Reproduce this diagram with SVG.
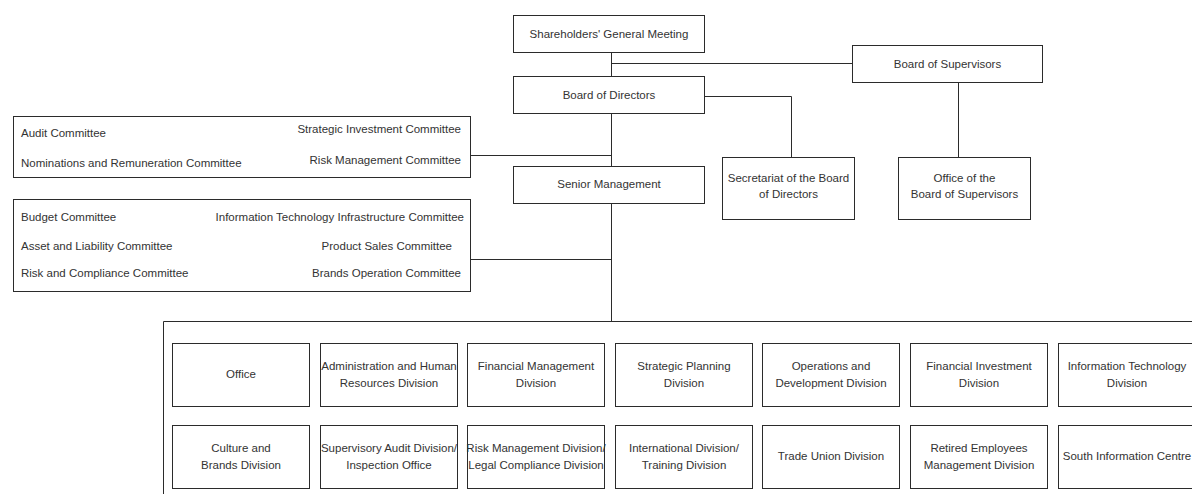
<svg xmlns="http://www.w3.org/2000/svg" width="1192" height="494" viewBox="0 0 1192 494">
  <style>
    .box { fill: #ffffff; stroke: #2b2b2b; stroke-width: 1; }
    .wire { fill: none; stroke: #2b2b2b; stroke-width: 1; }
    text { font-family: "Liberation Sans", Arial, sans-serif; font-size: 11.5px; fill: #333333; dominant-baseline: central; }
    .c { text-anchor: middle; }
    .e { text-anchor: end; }
    .s { text-anchor: start; }
  </style>
  <rect width="1192" height="494" fill="#ffffff"/>

  <!-- connectors -->
  <g id="connectors">
    <path class="wire" d="M611.5,52.5 V76.5"/>
    <path class="wire" d="M611.5,63.5 H852.5"/>
    <path class="wire" d="M704.5,96.5 H791.5 V157.5"/>
    <path class="wire" d="M958.5,82.5 V157.5"/>
    <path class="wire" d="M611.5,113.5 V166.5"/>
    <path class="wire" d="M470.5,155.5 H611.5"/>
    <path class="wire" d="M611.5,203.5 V321.5"/>
    <path class="wire" d="M470.5,259.5 H611.5"/>
    <!-- frame around the divisions -->
    <path class="wire" d="M163.5,494 V321.5 H1200"/>
  </g>

  <g id="shareholders">
    <rect class="box" x="513.5" y="15.5" width="191" height="37"/>
    <text class="c" x="609" y="34">Shareholders' General Meeting</text>
  </g>
  <g id="board-of-directors">
    <rect class="box" x="513.5" y="76.5" width="191" height="37"/>
    <text class="c" x="609" y="95">Board of Directors</text>
  </g>
  <g id="board-of-supervisors">
    <rect class="box" x="852.5" y="45.5" width="190" height="37"/>
    <text class="c" x="947.5" y="64">Board of Supervisors</text>
  </g>
  <g id="senior-management">
    <rect class="box" x="513.5" y="166.5" width="191" height="37"/>
    <text class="c" x="609" y="184">Senior Management</text>
  </g>
  <g id="secretariat">
    <rect class="box" x="722.5" y="157.5" width="132" height="62"/>
    <text class="c" x="788.5" y="178">Secretariat of the Board</text>
    <text class="c" x="788.5" y="194">of Directors</text>
  </g>
  <g id="office-of-supervisors">
    <rect class="box" x="898.5" y="157.5" width="132" height="62"/>
    <text class="c" x="964.5" y="178">Office of the</text>
    <text class="c" x="964.5" y="194">Board of Supervisors</text>
  </g>

  <g id="board-committees">
    <rect class="box" x="13.5" y="116.5" width="457" height="61"/>
    <text class="s" x="21" y="133">Audit Committee</text>
    <text class="s" x="21" y="163">Nominations and Remuneration Committee</text>
    <text class="e" x="461" y="129">Strategic Investment Committee</text>
    <text class="e" x="461" y="160">Risk Management Committee</text>
  </g>
  <g id="management-committees">
    <rect class="box" x="13.5" y="199.5" width="457" height="92"/>
    <text class="s" x="21" y="217">Budget Committee</text>
    <text class="s" x="21" y="246">Asset and Liability Committee</text>
    <text class="s" x="21" y="273">Risk and Compliance Committee</text>
    <text class="e" x="464" y="217">Information Technology Infrastructure Committee</text>
    <text class="e" x="452" y="246">Product Sales Committee</text>
    <text class="e" x="461" y="273">Brands Operation Committee</text>
  </g>

  <!-- divisions, first row -->
  <g id="office">
    <rect class="box" x="172.5" y="343.5" width="137" height="63"/>
    <text class="c" x="241" y="374">Office</text>
  </g>
  <g id="admin-hr">
    <rect class="box" x="320.5" y="343.5" width="137" height="63"/>
    <text class="c" x="389" y="366">Administration and Human</text>
    <text class="c" x="389" y="383">Resources Division</text>
  </g>
  <g id="financial-management">
    <rect class="box" x="467.5" y="343.5" width="137" height="63"/>
    <text class="c" x="536" y="366">Financial Management</text>
    <text class="c" x="536" y="383">Division</text>
  </g>
  <g id="strategic-planning">
    <rect class="box" x="615.5" y="343.5" width="137" height="63"/>
    <text class="c" x="684" y="366">Strategic Planning</text>
    <text class="c" x="684" y="383">Division</text>
  </g>
  <g id="operations-development">
    <rect class="box" x="762.5" y="343.5" width="137" height="63"/>
    <text class="c" x="831" y="366">Operations and</text>
    <text class="c" x="831" y="383">Development Division</text>
  </g>
  <g id="financial-investment">
    <rect class="box" x="910.5" y="343.5" width="137" height="63"/>
    <text class="c" x="979" y="366">Financial Investment</text>
    <text class="c" x="979" y="383">Division</text>
  </g>
  <g id="information-technology">
    <rect class="box" x="1058.5" y="343.5" width="137" height="63"/>
    <text class="c" x="1127" y="366">Information Technology</text>
    <text class="c" x="1127" y="383">Division</text>
  </g>

  <!-- divisions, second row -->
  <g id="culture-brands">
    <rect class="box" x="172.5" y="425.5" width="137" height="63"/>
    <text class="c" x="241" y="448">Culture and</text>
    <text class="c" x="241" y="465">Brands Division</text>
  </g>
  <g id="supervisory-audit">
    <rect class="box" x="320.5" y="425.5" width="137" height="63"/>
    <text class="c" x="389" y="448">Supervisory Audit Division/</text>
    <text class="c" x="389" y="465">Inspection Office</text>
  </g>
  <g id="risk-legal">
    <rect class="box" x="467.5" y="425.5" width="137" height="63"/>
    <text class="c" x="536" y="448">Risk Management Division/</text>
    <text class="c" x="536" y="465">Legal Compliance Division</text>
  </g>
  <g id="international-training">
    <rect class="box" x="615.5" y="425.5" width="137" height="63"/>
    <text class="c" x="684" y="448">International Division/</text>
    <text class="c" x="684" y="465">Training Division</text>
  </g>
  <g id="trade-union">
    <rect class="box" x="762.5" y="425.5" width="137" height="63"/>
    <text class="c" x="831" y="456">Trade Union Division</text>
  </g>
  <g id="retired-employees">
    <rect class="box" x="910.5" y="425.5" width="137" height="63"/>
    <text class="c" x="979" y="448">Retired Employees</text>
    <text class="c" x="979" y="465">Management Division</text>
  </g>
  <g id="south-information-centre">
    <rect class="box" x="1058.5" y="425.5" width="137" height="63"/>
    <text class="c" x="1127" y="456">South Information Centre</text>
  </g>
</svg>
